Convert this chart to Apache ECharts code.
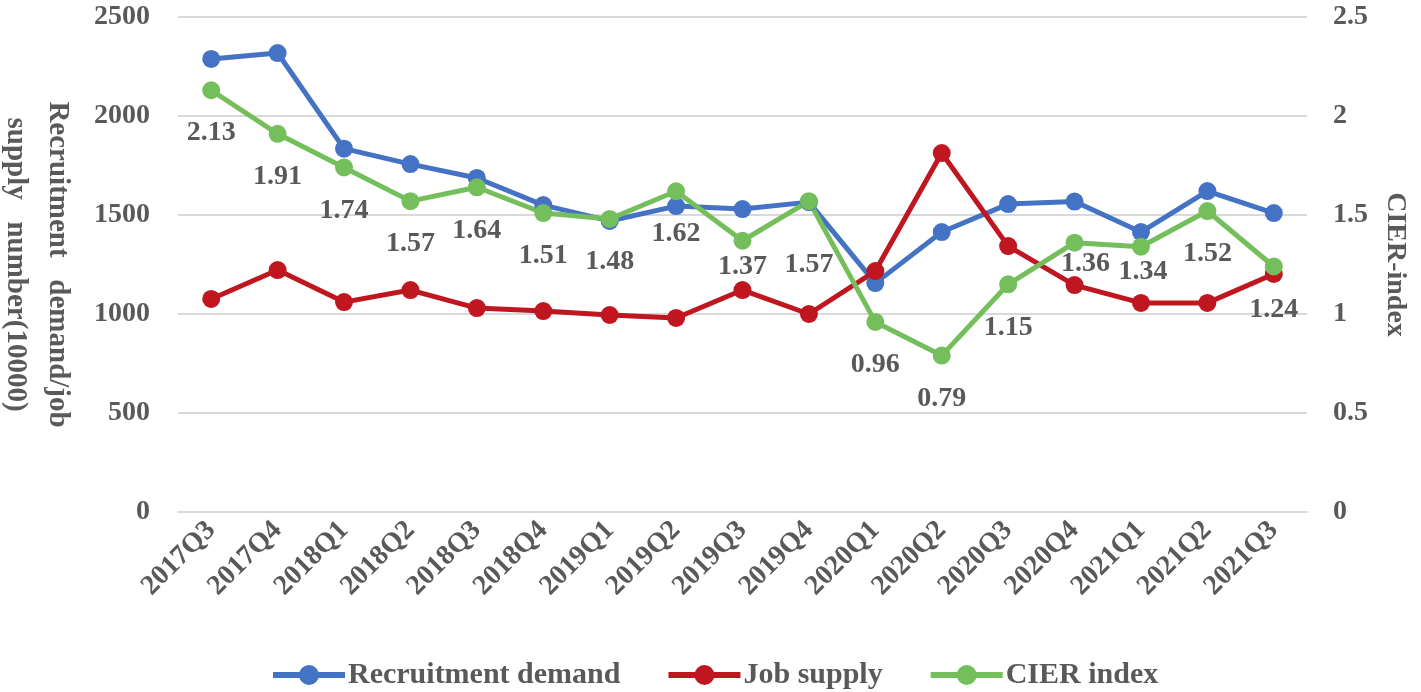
<!DOCTYPE html>
<html>
<head>
<meta charset="utf-8">
<script src="https://cdn.jsdelivr.net/npm/echarts@6/dist/echarts.min.js"></script>
<style>
html,body{margin:0;padding:0;background:#fff;}
#main{width:1421px;height:692px;}
</style>
</head>
<body>
<div id="main"></div>
<script>
var quarters = ['2017Q3','2017Q4','2018Q1','2018Q2','2018Q3','2018Q4','2019Q1','2019Q2','2019Q3','2019Q4','2020Q1','2020Q2','2020Q3','2020Q4','2021Q1','2021Q2','2021Q3'];
var recruitDemand = [2288,2318,1835,1757,1687,1550,1470,1545,1530,1565,1156,1414,1555,1568,1414,1621,1510];
var jobSupply = [1076,1222,1060,1121,1030,1015,995,980,1121,1000,1217,1813,1343,1146,1056,1056,1202];
var cierIndex = [2.13,1.91,1.74,1.57,1.64,1.51,1.48,1.62,1.37,1.57,0.96,0.79,1.15,1.36,1.34,1.52,1.24];

var font = 'Liberation Serif';
var grey = '#595959';

// a few labels sit off the usual spot in the original
var labelShift = {8: [0, -17], 9: [0, 21], 13: [11, -22], 14: [2, -18]};

// legend marker: thick line with a dot in the middle
var legendIcon = 'path://M0 9.5H72V15.5H0Z M26 12.5A10 10 0 1 1 46 12.5A10 10 0 1 1 26 12.5Z';

var myChart = echarts.init(document.getElementById('main'));

function lineSeries(name, data, color, axisIdx){
    return {
        name: name,
        type: 'line',
        yAxisIndex: axisIdx,
        data: data,
        symbol: 'circle',
        symbolSize: 18,
        itemStyle: {color: color},
        lineStyle: {color: color, width: 5},
        animation: false
    };
}

var cierData = cierIndex.map(function(v, i){
    var item = {value: v};
    if (labelShift[i]) item.label = {offset: labelShift[i]};
    return item;
});

var cier = lineSeries('CIER index', cierData, '#74BF5C', 1);
cier.label = {
    show: true,
    position: 'bottom',
    distance: 20,
    color: grey,
    fontFamily: font,
    fontWeight: 'bold',
    fontSize: 28
};

var option = {
    animation: false,
    grid: {left: 178, right: 114, top: 17, bottom: 180, outerBoundsMode: 'none', containLabel: false},
    legend: {
        data: ['Recruitment demand','Job supply','CIER index'],
        icon: legendIcon,
        left: 268,
        top: 655,
        itemWidth: 72,
        itemHeight: 20,
        itemGap: 48,
        textStyle: {color: grey, fontFamily: font, fontWeight: 'bold', fontSize: 30, padding: [0, 0, 0, -2]}
    },
    xAxis: {
        type: 'category',
        data: quarters,
        boundaryGap: true,
        axisLine: {lineStyle: {color: '#d9d9d9', width: 2}},
        axisTick: {alignWithLabel: true, length: 7, lineStyle: {color: '#d9d9d9', width: 2}},
        axisLabel: {
            rotate: 45,
            margin: 14,
            color: grey,
            fontFamily: font,
            fontWeight: 'bold',
            fontSize: 28
        }
    },
    yAxis: [{
        type: 'value',
        min: 0,
        max: 2500,
        interval: 500,
        name: 'Recruitment   demand/job\nsupply   number(10000)',
        nameLocation: 'middle',
        nameRotate: -90,
        nameGap: 100,
        nameTextStyle: {color: grey, fontFamily: font, fontWeight: 'bold', fontSize: 29, lineHeight: 42},
        axisLine: {show: false},
        axisTick: {show: false},
        splitLine: {lineStyle: {color: '#d9d9d9', width: 2}},
        axisLabel: {
            margin: 28, color: grey, fontFamily: font, fontWeight: 'bold', fontSize: 28,
            formatter: function(v){ return String(v); }
        }
    }, {
        type: 'value',
        min: 0,
        max: 2.5,
        interval: 0.5,
        name: 'CIER-index',
        nameLocation: 'middle',
        nameRotate: -90,
        nameGap: 74,
        nameTextStyle: {color: grey, fontFamily: font, fontWeight: 'bold', fontSize: 28},
        axisLine: {show: false},
        axisTick: {show: false},
        splitLine: {show: false},
        axisLabel: {margin: 26, color: grey, fontFamily: font, fontWeight: 'bold', fontSize: 28}
    }],
    series: [
        lineSeries('Recruitment demand', recruitDemand, '#4472C4', 0),
        lineSeries('Job supply', jobSupply, '#C0161F', 0),
        cier
    ]
};

myChart.setOption(option);
</script>
</body>
</html>
